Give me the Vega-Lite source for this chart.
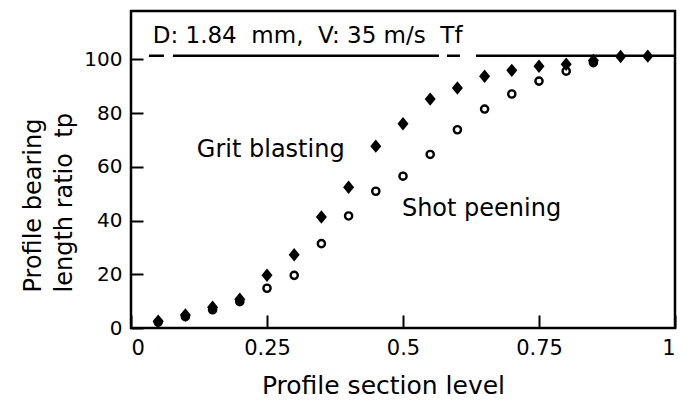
{
  "$schema": "https://vega.github.io/schema/vega-lite/v6.json",
  "width": 544,
  "height": 317,
  "autosize": {"type": "none"},
  "padding": {"left": 131, "top": 11, "right": 9, "bottom": 79},
  "background": "white",
  "config": {
    "view": {"stroke": "black", "strokeWidth": 2.5},
    "font": "DejaVu Sans",
    "axis": {
      "grid": false,
      "domain": false,
      "tickColor": "black",
      "tickWidth": 2,
      "labelColor": "black",
      "titleColor": "black",
      "labelFont": "DejaVu Sans",
      "titleFont": "DejaVu Sans",
      "titleFontWeight": "normal"
    }
  },
  "datasets": {
    "points": [
      {"level": 0.05, "tp": 2.5, "method": "Grit blasting"},
      {"level": 0.10, "tp": 4.8, "method": "Grit blasting"},
      {"level": 0.15, "tp": 7.7, "method": "Grit blasting"},
      {"level": 0.20, "tp": 10.7, "method": "Grit blasting"},
      {"level": 0.25, "tp": 19.6, "method": "Grit blasting"},
      {"level": 0.30, "tp": 27.3, "method": "Grit blasting"},
      {"level": 0.35, "tp": 41.3, "method": "Grit blasting"},
      {"level": 0.40, "tp": 52.4, "method": "Grit blasting"},
      {"level": 0.45, "tp": 67.7, "method": "Grit blasting"},
      {"level": 0.50, "tp": 76.0, "method": "Grit blasting"},
      {"level": 0.55, "tp": 85.2, "method": "Grit blasting"},
      {"level": 0.60, "tp": 89.3, "method": "Grit blasting"},
      {"level": 0.65, "tp": 93.7, "method": "Grit blasting"},
      {"level": 0.70, "tp": 95.9, "method": "Grit blasting"},
      {"level": 0.75, "tp": 97.4, "method": "Grit blasting"},
      {"level": 0.80, "tp": 98.2, "method": "Grit blasting"},
      {"level": 0.85, "tp": 99.6, "method": "Grit blasting"},
      {"level": 0.90, "tp": 101.1, "method": "Grit blasting"},
      {"level": 0.95, "tp": 101.2, "method": "Grit blasting"},
      {"level": 0.05, "tp": 2.2, "method": "Shot peening"},
      {"level": 0.10, "tp": 4.2, "method": "Shot peening"},
      {"level": 0.15, "tp": 6.8, "method": "Shot peening"},
      {"level": 0.20, "tp": 9.8, "method": "Shot peening"},
      {"level": 0.25, "tp": 14.8, "method": "Shot peening"},
      {"level": 0.30, "tp": 19.6, "method": "Shot peening"},
      {"level": 0.35, "tp": 31.4, "method": "Shot peening"},
      {"level": 0.40, "tp": 41.7, "method": "Shot peening"},
      {"level": 0.45, "tp": 50.9, "method": "Shot peening"},
      {"level": 0.50, "tp": 56.5, "method": "Shot peening"},
      {"level": 0.55, "tp": 64.6, "method": "Shot peening"},
      {"level": 0.60, "tp": 73.8, "method": "Shot peening"},
      {"level": 0.65, "tp": 81.5, "method": "Shot peening"},
      {"level": 0.70, "tp": 87.1, "method": "Shot peening"},
      {"level": 0.75, "tp": 91.9, "method": "Shot peening"},
      {"level": 0.80, "tp": 95.6, "method": "Shot peening"},
      {"level": 0.85, "tp": 98.8, "method": "Shot peening"}
    ],
    "notes": [
      {"note": "D: 1.84\u00a0 mm,\u00a0 V: 35 m/s\u00a0 Tf", "nx": 0.04, "ny": 106.1, "big": false},
      {"note": "Grit blasting", "nx": 0.121, "ny": 63.7, "big": true},
      {"note": "Shot peening", "nx": 0.498, "ny": 41.7, "big": true}
    ],
    "ref": [
      {"x1": 0.033, "x2": 1, "level": 101.3}
    ]
  },
  "layer": [
    {
      "data": {"name": "ref"},
      "mark": {"type": "rule", "color": "black", "strokeWidth": 2.5, "strokeDash": [15, 9, 266, 8, 13, 16, 300, 1]},
      "encoding": {
        "x": {"field": "x1", "type": "quantitative", "scale": {"domain": [0, 1], "nice": false, "zero": false},
          "axis": {
            "values": [0, 0.25, 0.5, 0.75, 1],
            "labelExpr": "datum.value == 0 ? '0' : datum.value == 1 ? '1' : format(datum.value, '.2~f')",
            "tickSize": -13,
            "labelPadding": 22,
            "labelFontSize": 21,
            "title": "Profile section level",
            "titleFontSize": 25,
            "titleX": 252,
            "titleY": 65,
            "titleAlign": "center",
            "titleBaseline": "alphabetic"
          }},
        "x2": {"field": "x2"},
        "y": {"field": "level", "type": "quantitative", "scale": {"domain": [0, 118], "nice": false, "zero": false},
          "axis": {
            "values": [0, 20, 40, 60, 80, 100],
            "tickSize": -12,
            "labelPadding": 21,
            "labelFontSize": 20,
            "title": ["Profile bearing", "length ratio\u00a0 tp"],
            "titleFontSize": 24,
            "titleLineHeight": 31,
            "titleX": -98,
            "titleY": 281,
            "titleAlign": "left",
            "titleBaseline": "middle",
            "titleAngle": -90
          }}
      }
    },
    {
      "data": {"name": "points"},
      "transform": [{"filter": "datum.method == 'Shot peening'"}],
      "mark": {"type": "point", "shape": "circle", "filled": false, "stroke": "black", "strokeWidth": 2.4, "size": 52, "opacity": 1},
      "encoding": {
        "x": {"field": "level", "type": "quantitative"},
        "y": {"field": "tp", "type": "quantitative"}
      }
    },
    {
      "data": {"name": "points"},
      "transform": [{"filter": "datum.method == 'Grit blasting'"}],
      "mark": {"type": "point", "shape": "M0,-1.1L0.9,0L0,1.1L-0.9,0Z", "filled": true, "color": "black", "size": 150, "opacity": 1},
      "encoding": {
        "x": {"field": "level", "type": "quantitative"},
        "y": {"field": "tp", "type": "quantitative"}
      }
    },
    {
      "data": {"name": "notes"},
      "mark": {"type": "text", "align": "left", "baseline": "alphabetic", "color": "black"},
      "encoding": {
        "x": {"field": "nx", "type": "quantitative"},
        "y": {"field": "ny", "type": "quantitative"},
        "text": {"field": "note"},
        "size": {"condition": {"test": "datum.big", "value": 24}, "value": 23}
      }
    }
  ]
}
